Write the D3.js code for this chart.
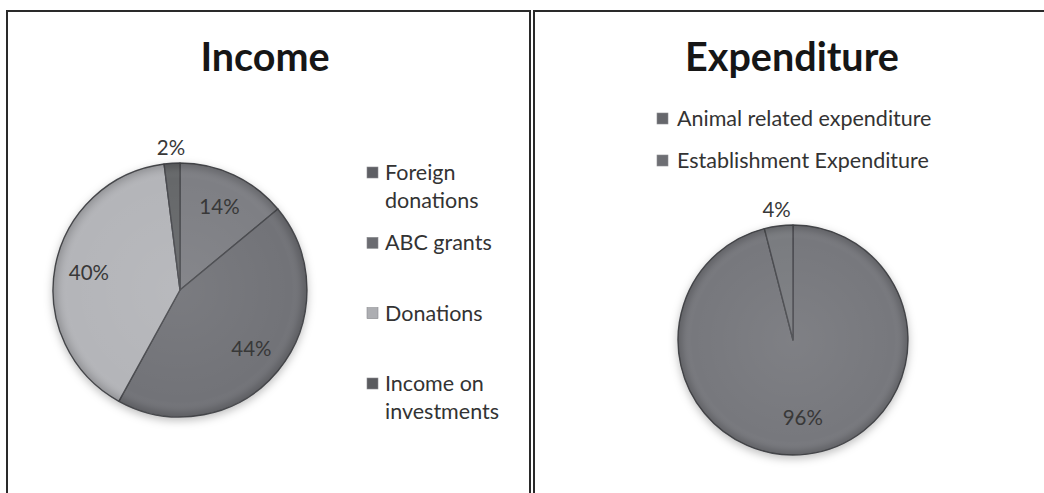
<!DOCTYPE html>
<html>
<head>
<meta charset="utf-8">
<style>
body { margin: 0; background: #fff; }
svg { display: block; font-family: Lato, "Open Sans", sans-serif; }
</style>
</head>
<body>
<svg id="chart" width="1044" height="493"></svg>
<script src="https://cdn.jsdelivr.net/npm/d3@7"></script>
<script>
// data
var incomeCategories = ["Foreign donations", "ABC grants", "Donations", "Income on investments"];
var incomeValues = [14, 44, 40, 2];
var incomeColors = ["#7e7f84", "#727378", "#b4b5b9", "#66676b"];
var incomeLegendColors = ["#5e5f64", "#6b6c71", "#adaeb2", "#5a5b5f"];

var expenditureCategories = ["Animal related expenditure", "Establishment Expenditure"];
var expenditureValues = [96, 4];
var expenditureColors = ["#77787d", "#7a7b80"];
var expenditureLegendColors = ["#66676c", "#6e6f74"];

var svg = d3.select("#chart");
var defs = svg.append("defs");

// soft shadow under the pies
var shadow = defs.append("filter").attr("id", "shadow")
  .attr("x", "-20%").attr("y", "-20%").attr("width", "140%").attr("height", "140%");
shadow.append("feDropShadow").attr("dx", 0).attr("dy", 3).attr("stdDeviation", 4)
  .attr("flood-color", "#000").attr("flood-opacity", 0.25);

// bevel-ish shading over the slices
var shade = defs.append("radialGradient").attr("id", "shade")
  .attr("gradientUnits", "userSpaceOnUse").attr("cx", 0).attr("cy", 0).attr("r", 1);
shade.append("stop").attr("offset", "0%").attr("stop-color", "#fff").attr("stop-opacity", 0.06);
shade.append("stop").attr("offset", "88%").attr("stop-color", "#fff").attr("stop-opacity", 0.0);
shade.append("stop").attr("offset", "96%").attr("stop-color", "#000").attr("stop-opacity", 0.08);
shade.append("stop").attr("offset", "100%").attr("stop-color", "#000").attr("stop-opacity", 0.18);

// panel frames
svg.append("path")
  .attr("d", "M7,493V11H530V493")
  .attr("fill", "none").attr("stroke", "#2a2a2a").attr("stroke-width", 2);
svg.append("path")
  .attr("d", "M1046,11H534V493")
  .attr("fill", "none").attr("stroke", "#2a2a2a").attr("stroke-width", 2);

function drawPie(opt) {
  var g = svg.append("g").attr("transform", "translate(" + opt.cx + "," + opt.cy + ")");
  var pie = d3.pie().sort(null);
  var arcs = pie(opt.values);
  var arc = d3.arc().innerRadius(0).outerRadius(opt.r);
  var labelArc = d3.arc().innerRadius(opt.r * opt.labelK).outerRadius(opt.r * opt.labelK);
  var outArc = d3.arc().innerRadius(opt.r + 16).outerRadius(opt.r + 16);

  var slices = g.append("g").attr("filter", "url(#shadow)");
  slices.selectAll("path.slice")
    .data(arcs)
    .join("path")
    .attr("class", "slice")
    .attr("d", arc)
    .attr("fill", function(d, i) { return opt.colors[i]; })
    .attr("stroke", "#4a4b4f")
    .attr("stroke-width", 1.4)
    .attr("stroke-linejoin", "round");

  var gradId = "shade" + opt.id;
  defs.append("radialGradient").attr("id", gradId)
    .attr("href", "#shade")
    .attr("gradientUnits", "userSpaceOnUse")
    .attr("cx", 0).attr("cy", 0).attr("r", opt.r);
  g.append("circle").attr("r", opt.r)
    .attr("fill", "url(#" + gradId + ")")
    .attr("pointer-events", "none");

  g.selectAll("text.pct")
    .data(arcs)
    .join("text")
    .attr("class", "pct")
    .attr("transform", function(d) {
      var small = (d.endAngle - d.startAngle) < 0.3;
      var c = small ? outArc.centroid(d) : labelArc.centroid(d);
      return "translate(" + c[0] + "," + c[1] + ")";
    })
    .attr("text-anchor", "middle")
    .attr("dy", "0.36em")
    .attr("font-size", 20.5)
    .attr("fill", "#383838")
    .text(function(d) { return d.data + "%"; });
}

function drawTitle(text, x) {
  svg.append("text")
    .attr("x", x).attr("y", 71)
    .attr("text-anchor", "middle")
    .attr("font-size", 39.5)
    .attr("font-weight", "bold")
    .attr("fill", "#161616")
    .text(text);
}

function swatch(x, y, color) {
  svg.append("rect")
    .attr("x", x).attr("y", y).attr("width", 11).attr("height", 11)
    .attr("fill", color).attr("stroke", "#8a8b8f").attr("stroke-width", 0.6);
}

function wrapWords(label, maxW, size) {
  var probe = svg.append("text").attr("font-size", size).attr("visibility", "hidden");
  var words = label.split(" "), lines = [], line = "";
  words.forEach(function(w) {
    var test = line ? line + " " + w : w;
    probe.text(test);
    if (line && probe.node().getComputedTextLength() > maxW) {
      lines.push(line);
      line = w;
    } else {
      line = test;
    }
  });
  lines.push(line);
  probe.remove();
  return lines;
}

var legendSize = 21.5;

// ---- Income ----
drawTitle("Income", 265);
drawPie({ id: "inc", cx: 180, cy: 290, r: 127, values: incomeValues, colors: incomeColors, labelK: 0.73 });

var incLegendY = d3.scalePoint().domain(incomeCategories).range([180, 391]);
incomeCategories.forEach(function(c, i) {
  var y = incLegendY(c);
  swatch(367, y - 13, incomeLegendColors[i]);
  var t = svg.append("text").attr("x", 385).attr("y", y)
    .attr("font-size", legendSize).attr("fill", "#333");
  wrapWords(c, 132, legendSize).forEach(function(l, k) {
    t.append("tspan").attr("x", 385).attr("dy", k ? 27.5 : 0).text(l);
  });
});

// ---- Expenditure ----
drawTitle("Expenditure", 792);
drawPie({ id: "exp", cx: 793, cy: 340, r: 115, values: expenditureValues, colors: expenditureColors, labelK: 0.68 });

var expLegendY = d3.scalePoint().domain(expenditureCategories).range([126, 168]);
expenditureCategories.forEach(function(c, i) {
  var y = expLegendY(c);
  swatch(657, y - 13, expenditureLegendColors[i]);
  svg.append("text").attr("x", 677).attr("y", y)
    .attr("font-size", legendSize).attr("fill", "#333")
    .text(c);
});
</script>
</body>
</html>
